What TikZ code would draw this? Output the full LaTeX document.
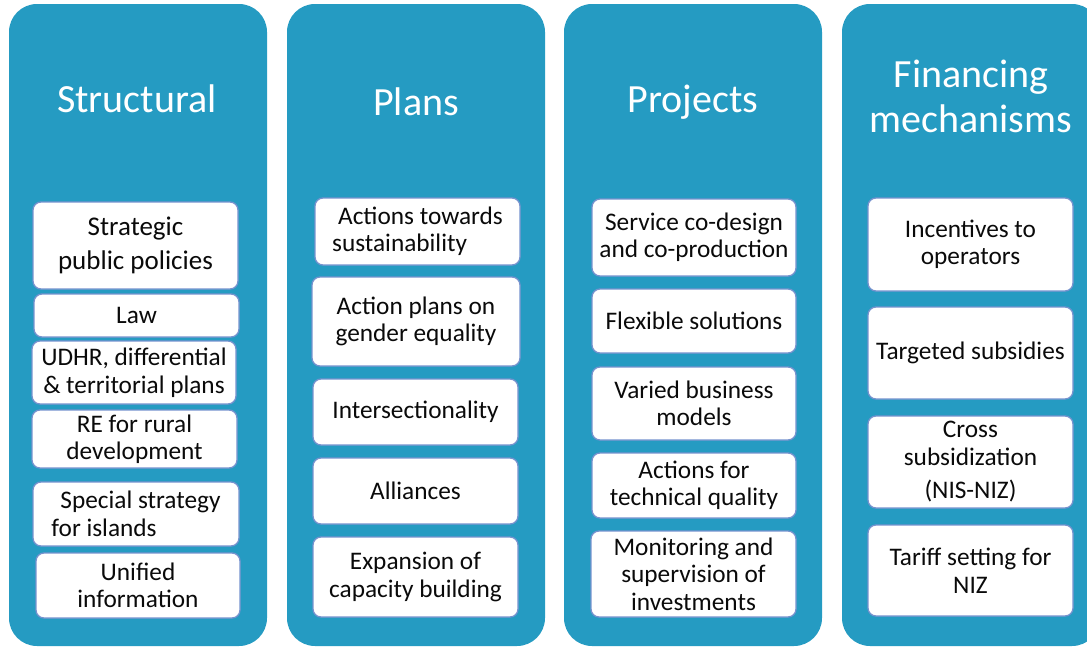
\documentclass[tikz,border=0pt]{standalone}
\usepackage{fontspec}
\setmainfont{Carlito}
\definecolor{colblue}{RGB}{37,155,194}
\definecolor{boxline}{RGB}{118,146,206}
\definecolor{boxtext}{RGB}{10,10,10}
\begin{document}
\begin{tikzpicture}[x=1pt,y=-1pt,
  col/.style={fill=colblue, draw=none, rounded corners=28pt, inner sep=0pt,
    minimum width=258pt, minimum height=642pt},
  coltitle/.style={text=white, align=center, inner sep=0pt,
    font=\fontsize{40}{45}\selectfont},
  item/.style={draw=boxline, line width=1.3pt, fill=white, rounded corners=8pt,
    inner sep=0pt, align=center, text=boxtext, minimum width=205pt,
    font=\fontsize{25.3}{27.5}\selectfont},
]
\useasboundingbox (0,0) rectangle (1087,648);
\begin{scope}
\clip (0,0) rectangle (1087,648);

% column panels
\node[col] (c1) at (138,325) {};
\node[col] (c2) at (416,325) {};
\node[col] (c3) at (693,325) {};
\node[col] (c4) at (971,325) {};

% column headings
\node[coltitle, anchor=base] (t1) at (137,112) {Structural};
\node[coltitle, anchor=base] (t2) at (416,115) {Plans};
\node[coltitle, anchor=base] (t3) at (693,112) {Projects};
\node[coltitle, anchor=base] (t4) at (971,132) {Financing\\mechanisms};

% Structural
\node[item, minimum height=87pt, font=\fontsize{27}{34}\selectfont] (s1) at (135.5,245.5) {Strategic\\public policies};
\node[item, minimum height=43pt] (s2) at (136.5,315.5) {Law};
\node[item, minimum height=63pt, minimum width=204pt] (s3) at (134,372.5) {UDHR, differential\\\& territorial plans};
\node[item, minimum height=58pt] (s4) at (134.5,439) {RE for rural\\development};
\node[item, minimum height=64pt, minimum width=206pt, align=left] (s5) at (136,514) {\hspace*{9pt}Special strategy\\for islands};
\node[item, minimum height=65pt, minimum width=204pt] (s6) at (138,585.5) {Unified\\information};

% Plans
\node[item, minimum height=67pt, align=left] (p1) at (417.5,231.5) {\hspace*{6pt}Actions towards\\sustainability};
\node[item, minimum height=89pt, minimum width=208pt] (p2) at (416,321.5) {Action plans on\\gender equality};
\node[item, minimum height=66pt] (p3) at (415.5,412) {Intersectionality};
\node[item, minimum height=66pt] (p4) at (415.5,491) {Alliances};
\node[item, minimum height=80pt] (p5) at (415.5,577) {Expansion of\\capacity building};

% Projects
\node[item, minimum height=77pt, minimum width=204pt] (q1) at (694,237.5) {Service co-design\\and co-production};
\node[item, minimum height=64pt, minimum width=204pt] (q2) at (694,321) {Flexible solutions};
\node[item, minimum height=73pt, minimum width=204pt] (q3) at (694,403.5) {Varied business\\models};
\node[item, minimum height=65pt, minimum width=204pt] (q4) at (694,485.5) {Actions for\\technical quality};
\node[item, minimum height=86pt] (q5) at (693.5,574) {Monitoring and\\supervision of\\investments};

% Financing mechanisms
\node[item, minimum height=93pt] (f1) at (970.5,244.5) {Incentives to\\operators};
\node[item, minimum height=92pt] (f2) at (970.5,353) {Targeted subsidies};
\node[item, minimum height=92pt] (f3) at (970.5,462) {Cross\\subsidization\\[6pt](NIS-NIZ)};
\node[item, minimum height=91pt] (f4) at (970.5,570.5) {Tariff setting for\\NIZ};
\end{scope}
\end{tikzpicture}
\end{document}
